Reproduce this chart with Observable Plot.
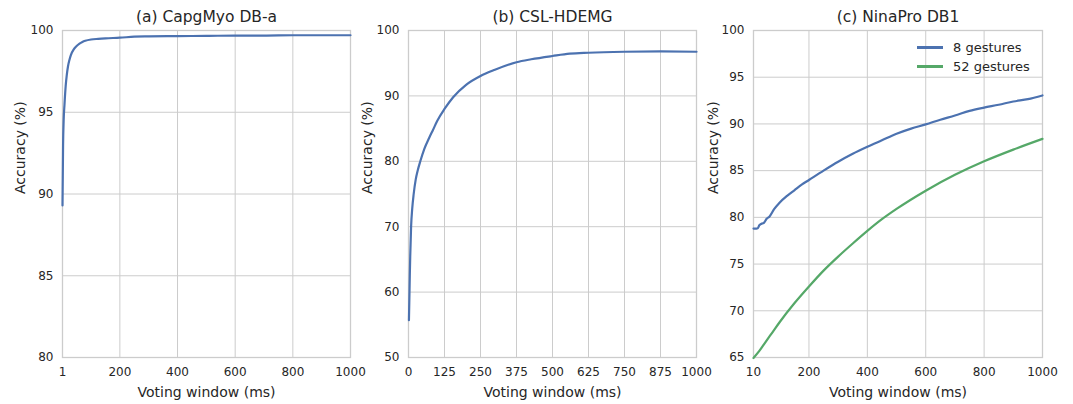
<!DOCTYPE html>
<html><head><meta charset="utf-8">
<script src="https://cdn.jsdelivr.net/npm/d3@7"></script>
<script src="https://cdn.jsdelivr.net/npm/@observablehq/plot@0.6"></script>
<style>
body{margin:0;background:#fff;font-family:"DejaVu Sans",sans-serif;}
#wrap{position:relative;width:1073px;height:404px;overflow:hidden;}
.panel{position:absolute;top:0;}
.legend{position:absolute;left:917px;top:38px;font:13px "DejaVu Sans",sans-serif;color:#262626;}
.legend .row{display:flex;align-items:center;height:19px;}
.legend .sw{display:inline-block;width:26px;height:2.2px;margin-right:10px;}
</style></head>
<body><div id="wrap"></div>
<script>
// ---- data ----
const titles = ["(a) CapgMyo DB-a", "(b) CSL-HDEMG", "(c) NinaPro DB1"];
const xLabel = "Voting window (ms)";
const yLabel = "Accuracy (%)";

const ticksXA = [1, 200, 400, 600, 800, 1000];
const ticksYA = [80, 85, 90, 95, 100];
const ticksXB = [0, 125, 250, 375, 500, 625, 750, 875, 1000];
const ticksYB = [50, 60, 70, 80, 90, 100];
const ticksXC = [10, 200, 400, 600, 800, 1000];
const ticksYC = [65, 70, 75, 80, 85, 90, 95, 100];

const capgX = [1, 3, 5, 8, 12, 16, 20, 25, 30, 40, 50, 60, 70, 80, 100, 125, 150, 200, 250, 300, 400, 500, 600, 700, 800, 900, 1000];
const capgY = [89.3, 93.0, 94.5, 95.5, 96.6, 97.3, 97.8, 98.2, 98.5, 98.85, 99.05, 99.2, 99.3, 99.37, 99.45, 99.49, 99.52, 99.56, 99.62, 99.64, 99.66, 99.67, 99.69, 99.69, 99.71, 99.71, 99.71];

const cslX = [1.5, 3, 4.5, 6, 9, 13, 18, 25, 32, 41, 55, 72, 85, 100, 125, 155, 200, 250, 300, 375, 426, 500, 560, 625, 750, 875, 1000];
const cslY = [55.7, 59, 62.5, 65.5, 70, 72.8, 75, 77.2, 78.6, 80, 81.9, 83.6, 84.8, 86.2, 88.0, 89.8, 91.7, 93.05, 94, 95.15, 95.6, 96.1, 96.45, 96.6, 96.75, 96.8, 96.75];

const nina8X = [10, 20, 25, 30, 40, 45, 55, 65, 80, 100, 125, 150, 175, 200, 250, 300, 350, 400, 450, 500, 550, 600, 650, 700, 750, 800, 850, 900, 950, 1000];
const nina8Y = [78.8, 78.8, 78.85, 79.15, 79.35, 79.4, 79.85, 80.1, 80.85, 81.6, 82.3, 82.9, 83.5, 84.0, 85.0, 85.95, 86.8, 87.55, 88.25, 88.95, 89.5, 89.95, 90.45, 90.9, 91.4, 91.75, 92.05, 92.4, 92.65, 93.05];
const nina52X = [10, 30, 50, 75, 100, 150, 200, 250, 300, 350, 400, 450, 500, 600, 700, 800, 900, 1000];
const nina52Y = [64.95, 65.7, 66.6, 67.7, 68.8, 70.8, 72.6, 74.3, 75.8, 77.2, 78.55, 79.8, 80.9, 82.85, 84.55, 86.0, 87.25, 88.4];

const seriesNames = ["8 gestures", "52 gestures"];
const colors = ["#4c72b0", "#55a868"];

// ---- drawing ----
const wrap = document.getElementById("wrap");
const TEXT = "#262626", GRID = "#cccccc";

function toRows(xs, ys, s) { return xs.map((x, i) => ({x, y: ys[i], s})); }

function panel({left, width, marginLeft, marginRight, xDomain, yDomain, xTicks, yTicks, title, series, ylabDx}) {
  const marks = [
    Plot.gridX(xTicks, {stroke: GRID, strokeOpacity: 1, strokeWidth: 1}),
    Plot.gridY(yTicks, {stroke: GRID, strokeOpacity: 1, strokeWidth: 1}),
    Plot.frame({stroke: GRID, strokeWidth: 1.3}),
    Plot.axisX({ticks: xTicks, tickSize: 0, tickPadding: 10, label: null, fill: TEXT, tickFormat: d => String(d)}),
    Plot.axisY({ticks: yTicks, tickSize: 0, tickPadding: 9, label: null, fill: TEXT, tickFormat: d => String(d)}),
    ...series.map(sr => Plot.line(sr.rows, {x: "x", y: "y", stroke: sr.color, strokeWidth: 2.2, curve: "monotone-x"})),
    Plot.text([title], {text: d => d, frameAnchor: "top", lineAnchor: "middle", dy: -13, fontSize: 15.5, fill: TEXT}),
    Plot.text([xLabel], {text: d => d, frameAnchor: "bottom", lineAnchor: "middle", dy: 35, fontSize: 14, fill: TEXT}),
    Plot.text([yLabel], {text: d => d, frameAnchor: "left", lineAnchor: "middle", dx: ylabDx, rotate: -90, fontSize: 14, fill: TEXT})
  ];
  const svg = Plot.plot({
    width, height: 404,
    marginLeft, marginRight, marginTop: 30, marginBottom: 47,
    x: {domain: xDomain},
    y: {domain: yDomain},
    style: {fontFamily: "DejaVu Sans, sans-serif", fontSize: "12px", color: TEXT, background: "transparent", overflow: "visible"},
    marks
  });
  svg.classList.add("panel");
  svg.style.left = left + "px";
  wrap.appendChild(svg);
}

panel({left: 0, width: 360, marginLeft: 62, marginRight: 10, xDomain: [1, 1000], yDomain: [80, 100],
  xTicks: ticksXA, yTicks: ticksYA, title: titles[0], ylabDx: -42,
  series: [{rows: toRows(capgX, capgY, "a"), color: colors[0]}]});

panel({left: 360, width: 346, marginLeft: 48, marginRight: 10, xDomain: [0, 1000], yDomain: [50, 100],
  xTicks: ticksXB, yTicks: ticksYB, title: titles[1], ylabDx: -41,
  series: [{rows: toRows(cslX, cslY, "b"), color: colors[0]}]});

panel({left: 706, width: 367, marginLeft: 47, marginRight: 31, xDomain: [10, 1000], yDomain: [65, 100],
  xTicks: ticksXC, yTicks: ticksYC, title: titles[2], ylabDx: -40,
  series: [
    {rows: toRows(nina8X, nina8Y, seriesNames[0]), color: colors[0]},
    {rows: toRows(nina52X, nina52Y, seriesNames[1]), color: colors[1]}
  ]});

// legend
const lg = document.createElement("div");
lg.className = "legend";
seriesNames.forEach((n, i) => {
  const r = document.createElement("div");
  r.className = "row";
  const sw = document.createElement("span");
  sw.className = "sw";
  sw.style.background = colors[i];
  r.appendChild(sw);
  r.appendChild(document.createTextNode(n));
  lg.appendChild(r);
});
wrap.appendChild(lg);
</script>
</body></html>
